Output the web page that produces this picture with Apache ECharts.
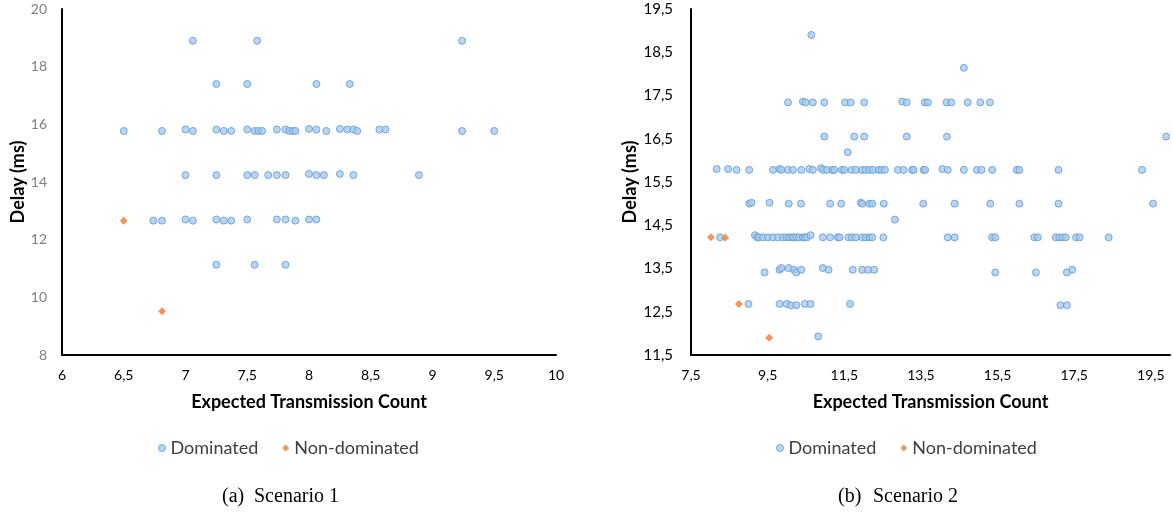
<!DOCTYPE html>
<html>
<head>
<meta charset="utf-8">
<script src="https://cdn.jsdelivr.net/npm/echarts@6/dist/echarts.min.js"></script>
<style>
  html, body { margin: 0; padding: 0; background: #ffffff; }
  #chart { width: 1173px; height: 513px; }
</style>
</head>
<body>
<div id="chart"></div>
<script>
// Scenario 1: [ETX, delay ms]
const scenario1Dominated = [
  [7.06, 18.9], [7.58, 18.9], [9.24, 18.9],
  [7.25, 17.4], [7.50, 17.4], [8.06, 17.4], [8.33, 17.4],
  [6.50, 15.77], [6.81, 15.77], [7.00, 15.82], [7.06, 15.77], [7.25, 15.82], [7.31, 15.77],
  [7.37, 15.77], [7.50, 15.82], [7.56, 15.77], [7.59, 15.77], [7.62, 15.77], [7.74, 15.82],
  [7.81, 15.82], [7.84, 15.77], [7.87, 15.77], [7.89, 15.77], [8.00, 15.84], [8.06, 15.82],
  [8.14, 15.77], [8.25, 15.84], [8.31, 15.82], [8.36, 15.82], [8.39, 15.77], [8.57, 15.82],
  [8.62, 15.82], [9.24, 15.77], [9.50, 15.77],
  [7.00, 14.24], [7.25, 14.24], [7.50, 14.24], [7.56, 14.24], [7.67, 14.24], [7.74, 14.24],
  [7.81, 14.24], [8.00, 14.28], [8.06, 14.24], [8.12, 14.24], [8.25, 14.28], [8.36, 14.24],
  [8.89, 14.24],
  [6.74, 12.66], [6.81, 12.66], [7.00, 12.70], [7.06, 12.66], [7.25, 12.70], [7.31, 12.66],
  [7.37, 12.66], [7.50, 12.70], [7.74, 12.70], [7.81, 12.70], [7.89, 12.66], [8.00, 12.70],
  [8.06, 12.70],
  [7.25, 11.13], [7.56, 11.13], [7.81, 11.13]
];
const scenario1NonDominated = [[6.50, 12.66], [6.81, 9.52]];

// Scenario 2: [ETX, delay ms]
const scenario2Dominated = [
  [10.64, 18.90], [14.62, 18.14],
  [10.03, 17.34], [10.42, 17.36], [10.49, 17.34], [10.68, 17.34], [10.98, 17.34], [11.52, 17.34],
  [11.67, 17.34], [12.02, 17.34], [13.01, 17.36], [13.13, 17.34], [13.60, 17.34], [13.68, 17.34],
  [14.17, 17.34], [14.29, 17.34], [14.72, 17.34], [15.05, 17.34], [15.30, 17.34],
  [10.98, 16.55], [11.76, 16.55], [12.02, 16.55], [13.13, 16.55], [14.18, 16.55], [19.90, 16.55],
  [11.59, 16.19],
  [8.17, 15.80], [8.47, 15.80], [8.69, 15.78], [9.02, 15.78], [9.64, 15.78], [9.81, 15.80],
  [9.86, 15.78], [10.03, 15.78], [10.16, 15.78], [10.38, 15.78], [10.59, 15.80], [10.68, 15.78],
  [10.89, 15.82], [10.95, 15.78], [11.05, 15.78], [11.19, 15.78], [11.24, 15.78], [11.44, 15.78],
  [11.50, 15.78], [11.69, 15.78], [11.80, 15.78], [11.97, 15.78], [12.06, 15.78], [12.16, 15.78],
  [12.25, 15.78], [12.40, 15.78], [12.47, 15.78], [12.56, 15.78], [12.90, 15.78], [13.05, 15.78],
  [13.27, 15.78], [13.31, 15.78], [13.57, 15.78], [13.61, 15.78], [14.06, 15.80], [14.20, 15.78],
  [14.62, 15.78], [14.96, 15.78], [15.08, 15.78], [15.36, 15.78], [16.00, 15.78], [16.07, 15.78],
  [17.09, 15.78], [19.27, 15.78],
  [9.02, 15.00], [9.08, 15.02], [9.55, 15.02], [10.05, 15.00], [10.37, 15.00], [11.13, 15.00],
  [11.42, 15.00], [11.93, 15.02], [11.97, 15.00], [12.16, 15.00], [12.23, 15.00], [12.53, 15.00],
  [13.56, 15.00], [14.38, 15.00], [15.31, 15.00], [16.07, 15.00], [17.09, 15.00], [19.56, 15.00],
  [12.82, 14.63],
  [8.26, 14.22], [9.17, 14.27], [9.23, 14.22], [9.28, 14.22], [9.38, 14.22], [9.51, 14.22],
  [9.64, 14.22], [9.77, 14.22], [9.90, 14.22], [9.99, 14.22], [10.06, 14.22], [10.13, 14.22],
  [10.18, 14.22], [10.25, 14.22], [10.32, 14.22], [10.42, 14.22], [10.47, 14.22], [10.53, 14.22],
  [10.62, 14.27], [10.94, 14.22], [11.13, 14.22], [11.33, 14.22], [11.38, 14.22], [11.61, 14.22],
  [11.70, 14.22], [11.80, 14.22], [11.97, 14.22], [12.06, 14.22], [12.16, 14.22], [12.23, 14.22],
  [12.52, 14.22], [14.20, 14.22], [14.38, 14.22], [15.36, 14.22], [15.44, 14.22], [16.46, 14.22],
  [16.55, 14.22], [17.02, 14.22], [17.11, 14.22], [17.20, 14.22], [17.28, 14.22], [17.55, 14.22],
  [17.64, 14.22], [18.40, 14.22],
  [9.42, 13.41], [9.81, 13.47], [9.86, 13.51], [10.05, 13.51], [10.19, 13.47], [10.25, 13.41],
  [10.38, 13.47], [10.94, 13.51], [11.09, 13.47], [11.72, 13.47], [11.97, 13.47], [12.12, 13.47],
  [12.28, 13.47], [15.44, 13.41], [16.50, 13.41], [17.31, 13.41], [17.45, 13.47],
  [9.00, 12.68], [9.81, 12.68], [10.00, 12.68], [10.11, 12.65], [10.25, 12.65], [10.47, 12.68],
  [10.62, 12.68], [11.65, 12.68], [17.14, 12.65], [17.31, 12.65],
  [10.82, 11.93]
];
const scenario2NonDominated = [[8.02, 14.22], [8.39, 14.21], [8.75, 12.68], [9.54, 11.90]];

const seriesNames = ['Dominated', 'Non-dominated'];
const xAxisTitle = 'Expected Transmission Count';
const yAxisTitle = 'Delay (ms)';
const captions = [['(a)', 'Scenario 1'], ['(b)', 'Scenario 2']];

const FONT = 'Lato, "Open Sans", sans-serif';
const BLUE_FILL = '#a9c9ee';
const BLUE_EDGE = '#5b9bd5';
const ORANGE = '#ed7d31';

// comma decimal separator, labels only on the given step from the axis start
function stepLabel(start, step) {
  return function (v) {
    const r = (v - start) / step;
    if (Math.abs(r - Math.round(r)) > 1e-6) return '';
    return Math.abs(v - Math.round(v)) < 1e-6
      ? String(Math.round(v))
      : v.toFixed(1).replace('.', ',');
  };
}

const axisLineStyle = { show: true, lineStyle: { color: '#000000', width: 2 } };
const nameStyle = { fontFamily: FONT, fontWeight: 'bold', fontSize: 18, color: '#000000' };

function domSeries(data, idx) {
  return {
    name: seriesNames[0], type: 'scatter', xAxisIndex: idx, yAxisIndex: idx,
    data: data, symbol: 'circle', symbolSize: 7,
    itemStyle: { color: BLUE_FILL, borderColor: BLUE_EDGE, borderWidth: 1 },
    emphasis: { disabled: true }
  };
}
function nonDomSeries(data, idx) {
  return {
    name: seriesNames[1], type: 'scatter', xAxisIndex: idx, yAxisIndex: idx,
    data: data, symbol: 'diamond', symbolSize: 8,
    itemStyle: { color: ORANGE },
    emphasis: { disabled: true }
  };
}

const legendBase = {
  orient: 'horizontal', top: 434, itemWidth: 7, itemHeight: 7, itemGap: 24,
  textStyle: { fontFamily: FONT, fontSize: 18, color: '#404040' },
  data: [
    { name: seriesNames[0], icon: 'circle', itemStyle: { color: BLUE_FILL, borderColor: BLUE_EDGE, borderWidth: 1 } },
    { name: seriesNames[1], icon: 'diamond', itemStyle: { color: ORANGE } }
  ],
  selectedMode: false
};

const captionText = (x, t) => ({
  type: 'text', left: x, top: 487,
  style: { text: t, font: '20px "Liberation Serif", "Times New Roman", serif', fill: '#000000' }
});

const option = {
  animation: false,
  backgroundColor: '#ffffff',
  grid: [
    { left: 62, top: 9, width: 494, height: 346 },
    { left: 691, top: 9, width: 482, height: 346 }
  ],
  xAxis: [
    {
      gridIndex: 0, type: 'value', min: 6, max: 10, interval: 0.5,
      axisLine: axisLineStyle, axisTick: { show: false }, splitLine: { show: false },
      axisLabel: { formatter: stepLabel(6, 0.5), fontFamily: FONT, fontSize: 14, color: '#000000', margin: 13 },
      name: xAxisTitle, nameLocation: 'middle', nameGap: 38, nameTextStyle: nameStyle
    },
    {
      gridIndex: 1, type: 'value', min: 7.5, max: 20, interval: 0.5,
      axisLine: axisLineStyle, axisTick: { show: false }, splitLine: { show: false },
      axisLabel: { formatter: stepLabel(7.5, 2), fontFamily: FONT, fontSize: 14, color: '#000000', margin: 13 },
      name: xAxisTitle, nameLocation: 'middle', nameGap: 38, nameTextStyle: nameStyle
    }
  ],
  yAxis: [
    {
      gridIndex: 0, type: 'value', min: 8, max: 20, interval: 2,
      axisLine: axisLineStyle, axisTick: { show: false }, splitLine: { show: false },
      axisLabel: { fontFamily: FONT, fontSize: 14, color: '#7f7f7f', margin: 15 },
      name: yAxisTitle, nameLocation: 'middle', nameGap: 33, nameTextStyle: nameStyle
    },
    {
      gridIndex: 1, type: 'value', min: 11.5, max: 19.5, interval: 0.5,
      axisLine: axisLineStyle, axisTick: { show: false }, splitLine: { show: false },
      axisLabel: { formatter: stepLabel(11.5, 1), fontFamily: FONT, fontSize: 15, color: '#000000', margin: 18 },
      name: yAxisTitle, nameLocation: 'middle', nameGap: 45, nameTextStyle: nameStyle
    }
  ],
  legend: [
    Object.assign({}, legendBase, { left: 153 }),
    Object.assign({}, legendBase, { left: 771 })
  ],
  series: [
    domSeries(scenario1Dominated, 0),
    nonDomSeries(scenario1NonDominated, 0),
    domSeries(scenario2Dominated, 1),
    nonDomSeries(scenario2NonDominated, 1)
  ],
  graphic: [
    captionText(222, captions[0][0]), captionText(254, captions[0][1]),
    captionText(838, captions[1][0]), captionText(873, captions[1][1])
  ]
};

const chart = echarts.init(document.getElementById('chart'), null, { renderer: 'canvas' });
chart.setOption(option);
</script>
</body>
</html>
